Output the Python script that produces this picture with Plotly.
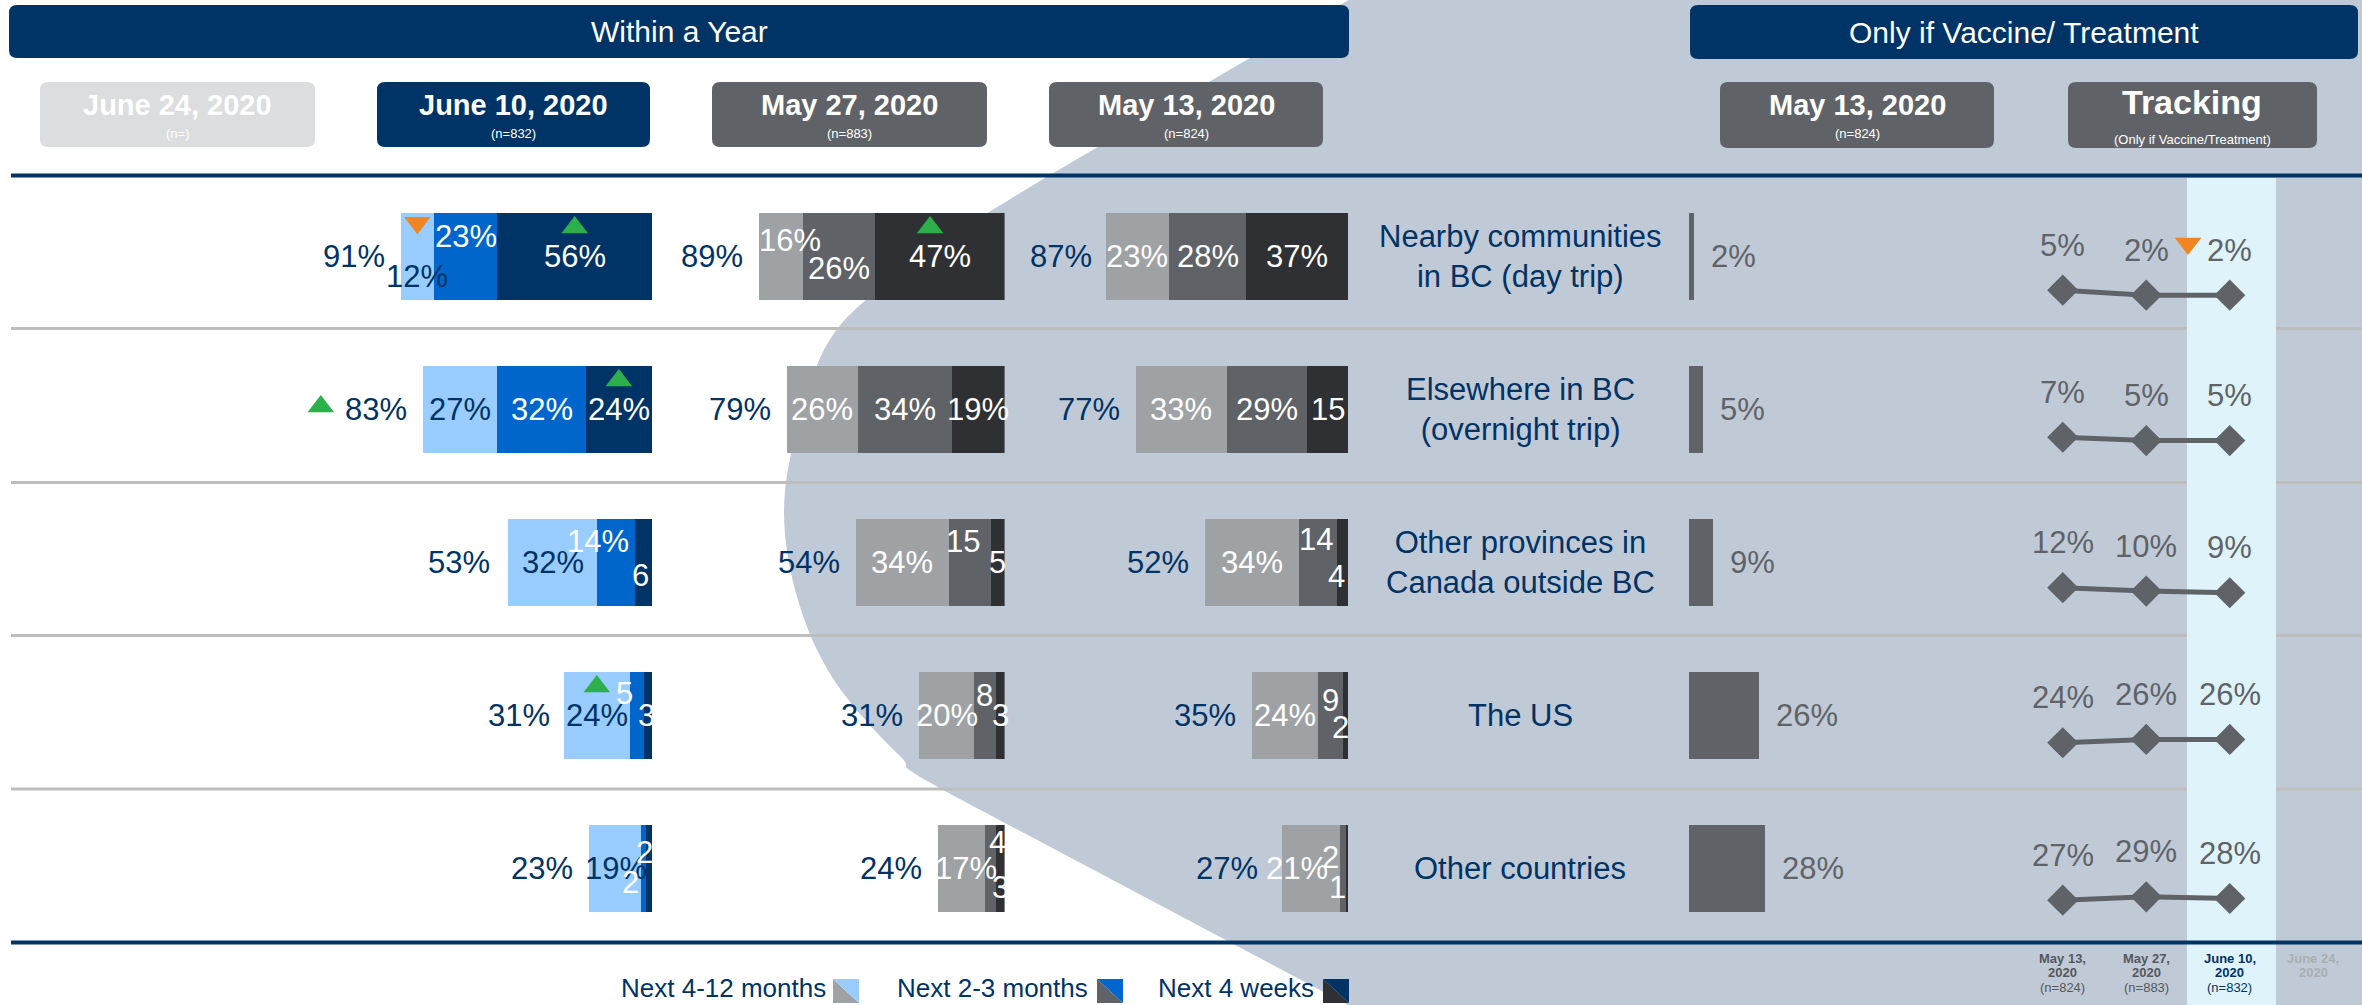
import plotly.graph_objects as go

# ---------------- data ----------------
row_labels = ["Nearby communities<br>in BC (day trip)", "Elsewhere in BC<br>(overnight trip)",
              "Other provinces in<br>Canada outside BC", "The US", "Other countries"]
segments = ["Next 4-12 months", "Next 2-3 months", "Next 4 weeks"]

wave_titles = ["June 24, 2020", "June 10, 2020", "May 27, 2020", "May 13, 2020"]
wave_n = ["(n=)", "(n=832)", "(n=883)", "(n=824)"]

# Within a Year - June 10, 2020
jun10_412 = [12, 27, 32, 24, 19]
jun10_23 = [23, 32, 14, 5, 2]
jun10_4w = [56, 24, 6, 3, 2]
jun10_total = [91, 83, 53, 31, 23]
# Within a Year - May 27, 2020
may27_412 = [16, 26, 34, 20, 17]
may27_23 = [26, 34, 15, 8, 4]
may27_4w = [47, 19, 5, 3, 3]
may27_total = [89, 79, 54, 31, 24]
# Within a Year - May 13, 2020
may13_412 = [23, 33, 34, 24, 21]
may13_23 = [28, 29, 14, 9, 2]
may13_4w = [37, 15, 4, 2, 1]
may13_total = [87, 77, 52, 35, 27]

# Only if Vaccine / Treatment
vaccine_may13 = [2, 5, 9, 26, 28]
track_dates = ["May 13,", "May 27,", "June 10,", "June 24,"]
track_n = ["(n=824)", "(n=883)", "(n=832)", ""]
track_vals = [[5, 2, 2], [7, 5, 5], [12, 10, 9], [24, 26, 26], [27, 29, 28]]

# ---------------- style ----------------
W, H = 2362, 1005
FONT = "Liberation Sans, Arial, sans-serif"
NAVY = "#003366"
GREY = "#5F6368"
BG = "#C0CAD7"
GREEN = "#2DB04B"
ORANGE = "#F28522"
BLUES = ["#99CCFF", "#0066CC", "#003366"]
GREYS = ["#9EA2A5", "#5F6368", "#2F3033"]

ROW_TOP, ROW_H = 180, 153
BAR_W = 0.57
PX_PCT = 2.76
X_MAX = 130


def fx(p):
    return p / W


def fy(p):
    return 1 - p / H


def rrect(x0, y0, x1, y1, r=8):
    return (f"M {fx(x0 + r)},{fy(y0)} L {fx(x1 - r)},{fy(y0)} Q {fx(x1)},{fy(y0)} {fx(x1)},{fy(y0 + r)} "
            f"L {fx(x1)},{fy(y1 - r)} Q {fx(x1)},{fy(y1)} {fx(x1 - r)},{fy(y1)} "
            f"L {fx(x0 + r)},{fy(y1)} Q {fx(x0)},{fy(y1)} {fx(x0)},{fy(y1 - r)} "
            f"L {fx(x0)},{fy(y0 + r)} Q {fx(x0)},{fy(y0)} {fx(x0 + r)},{fy(y0)} Z")


def smooth(pts, before, after):
    # catmull-rom through pts, as cubic beziers
    ext = [before] + pts + [after]
    d = ""
    for i in range(1, len(ext) - 2):
        p0, p1, p2, p3 = ext[i - 1], ext[i], ext[i + 1], ext[i + 2]
        c1 = (p1[0] + (p2[0] - p0[0]) / 6, p1[1] + (p2[1] - p0[1]) / 6)
        c2 = (p2[0] - (p3[0] - p1[0]) / 6, p2[1] - (p3[1] - p1[1]) / 6)
        d += f" C {fx(c1[0])},{fy(c1[1])} {fx(c2[0])},{fy(c2[1])} {fx(p2[0])},{fy(p2[1])}"
    return d


fig = go.Figure()
shapes = []
ann = []

# background swoosh
curve = [(1050, 175), (934, 250), (838, 328), (800, 420), (784, 510), (798, 600),
         (834, 680), (899, 755), (956, 797)]
bg_path = (f"M {fx(1352)},{fy(-2)} L {fx(1050)},{fy(175)}" + smooth(curve, (1352, 0), (1352, 1005)) +
           f" L {fx(1352)},{fy(1007)} L {fx(W + 2)},{fy(1007)} L {fx(W + 2)},{fy(-2)} Z")
shapes.append(dict(type="path", path=bg_path, xref="paper", yref="paper", fillcolor=BG,
                   line=dict(width=0), layer="below"))

# separators
for ys in [328.5, 482.5, 635.5, 789]:
    shapes.append(dict(type="line", xref="paper", yref="paper", x0=fx(11), x1=1, y0=fy(ys), y1=fy(ys),
                       line=dict(color="#BDBDBD", width=3), layer="below"))
# highlight column (June 10 tracking)
shapes.append(dict(type="rect", xref="paper", yref="paper", x0=fx(2187), x1=fx(2276), y0=0, y1=fy(178),
                   fillcolor="#DFF4FA", line=dict(width=0), layer="below"))
for ys in [175.5, 942.5]:
    shapes.append(dict(type="line", xref="paper", yref="paper", x0=fx(11), x1=1, y0=fy(ys), y1=fy(ys),
                       line=dict(color=NAVY, width=4), layer="below"))


# header boxes
def header(x0, y0, x1, y1, color):
    shapes.append(dict(type="path", path=rrect(x0, y0, x1, y1), xref="paper", yref="paper",
                       fillcolor=color, line=dict(width=0)))


def txt(x, y, text, size, color, bold=False, xanchor="center", yanchor="middle"):
    ann.append(dict(x=fx(x), y=fy(y), xref="paper", yref="paper", text=f"<b>{text}</b>" if bold else text,
                    showarrow=False, xanchor=xanchor, yanchor=yanchor,
                    font=dict(family=FONT, size=size, color=color)))


header(9, 5, 1349, 58, NAVY)
txt(679, 31.5, "Within a Year", 30, "white")
header(1690, 5, 2358, 59, NAVY)
txt(2024, 32, "Only if Vaccine/ Treatment", 30, "white")

box_x = [(40, 315), (377, 650), (712, 987), (1049, 1323)]
box_c = ["#DCDDDF", NAVY, GREY, GREY]
for (x0, x1), c, t, n in zip(box_x, box_c, wave_titles, wave_n):
    header(x0, 82, x1, 147, c)
    txt((x0 + x1) / 2, 105, t, 29, "white", bold=True)
    txt((x0 + x1) / 2, 134, n, 13, "white")
header(1720, 82, 1994, 148, GREY)
txt(1857, 105, wave_titles[3], 29, "white", bold=True)
txt(1857, 134, wave_n[3], 13, "white")
header(2068, 82, 2317, 148, GREY)
txt(2192, 102, "Tracking", 34, "white", bold=True)
txt(2192, 139, "(Only if Vaccine/Treatment)", 13, "white")

# ---------------- within a year bars ----------------
layout_axes = {}
layout_axes["yaxis"] = dict(domain=[fy(ROW_TOP + 5 * ROW_H), fy(ROW_TOP)], range=[4.5, -0.5],
                            visible=False, fixedrange=True, anchor="x")
groups = [
    ("x", "xaxis", 652, [jun10_412, jun10_23, jun10_4w], jun10_total, BLUES),
    ("x2", "xaxis2", 1004.6, [may27_412, may27_23, may27_4w], may27_total, GREYS),
    ("x3", "xaxis3", 1348.4, [may13_412, may13_23, may13_4w], may13_total, GREYS),
]
label_off = {
    (0, 0, 0): (0, 20), (0, 0, 1): (0, -20),
    (0, 2, 1): (-18, -21), (0, 2, 2): (-3, 13),
    (0, 3, 1): (-12, -22), (0, 3, 2): (-1, 0),
    (0, 4, 0): (1, 0), (0, 4, 1): (1, -16), (0, 4, 2): (-19, 14),
    (1, 0, 0): (9, -16), (1, 0, 1): (0, 12),
    (1, 2, 1): (-7, -21),
    (1, 3, 1): (-1, -20),
    (1, 4, 0): (4, 0), (1, 4, 1): (7, -26), (1, 4, 2): (0, 19),
    (2, 2, 1): (-2, -23), (2, 2, 2): (-6, 14),
    (2, 3, 1): (0, -15), (2, 3, 2): (-5, 12),
    (2, 4, 0): (-14, 0), (2, 4, 1): (-12, -11), (2, 4, 2): (-10, 19),
}
no_pct = {(0, 2, 2), (0, 3, 1), (0, 3, 2), (0, 4, 1), (0, 4, 2), (1, 2, 1), (1, 2, 2), (1, 3, 1),
          (1, 3, 2), (1, 4, 1), (1, 4, 2), (2, 1, 2), (2, 2, 1), (2, 2, 2), (2, 3, 1), (2, 3, 2),
          (2, 4, 1), (2, 4, 2)}
rows = list(range(5))


def center_of(segs, r, s):
    v412, v23, v4w = segs[0][r], segs[1][r], segs[2][r]
    return [v4w + v23 + v412 / 2, v4w + v23 / 2, v4w / 2][s]


for g, (xr, xname, right, segs, totals, colors) in enumerate(groups):
    layout_axes[xname] = dict(domain=[fx(right - X_MAX * PX_PCT), fx(right)], range=[X_MAX, 0],
                              visible=False, fixedrange=True, anchor="y")
    # stack from the right: next 4 weeks first
    for s in [2, 1, 0]:
        fig.add_trace(go.Bar(x=segs[s], y=rows, orientation="h", xaxis=xr, yaxis="y", width=BAR_W,
                             marker=dict(color=colors[s], line=dict(width=0)), name=segments[s],
                             showlegend=False, hoverinfo="skip"))
    for r in rows:
        for s in range(3):
            val = segs[s][r]
            dx, dy = label_off.get((g, r, s), (0, 0))
            col = NAVY if (g == 0 and s == 0) else "white"
            ann.append(dict(x=center_of(segs, r, s), y=r, xref=xr, yref="y",
                            text=f"{val}" if (g, r, s) in no_pct else f"{val}%",
                            showarrow=False, xanchor="center", yanchor="middle", xshift=dx, yshift=-dy,
                            font=dict(family=FONT, size=31, color=col)))
        ann.append(dict(x=totals[r], y=r, xref=xr, yref="y", text=f"{totals[r]}%", showarrow=False,
                        xanchor="right", yanchor="middle", xshift=-14,
                        font=dict(family=FONT, size=31, color=NAVY)))

# significance markers (axis, segments, row, segment, direction, nudge in %-units)
sig = [("x", groups[0][3], 0, 0, "down", 0), ("x", groups[0][3], 0, 2, "up", 0),
       ("x", groups[0][3], 1, 2, "up", 0), ("x", groups[0][3], 3, 0, "up", 0),
       ("x2", groups[1][3], 0, 2, "up", 3.5)]
for xr, segs, r, s, d, nudge in sig:
    fig.add_trace(go.Scatter(x=[center_of(segs, r, s) + nudge], y=[r - (0.19 if d == "up" else 0.22)],
                             xaxis=xr, yaxis="y", mode="markers", hoverinfo="skip", showlegend=False,
                             marker=dict(symbol=f"triangle-{d}", size=23, color=GREEN if d == "up" else ORANGE)))
# significance marker beside the June 10 "Elsewhere in BC" total
fig.add_trace(go.Scatter(x=[jun10_total[1] + 37], y=[1 - 0.02], xaxis="x", yaxis="y", mode="markers",
                         hoverinfo="skip", showlegend=False,
                         marker=dict(symbol="triangle-up", size=23, color=GREEN)))

# category labels
for r, lab in enumerate(row_labels):
    ann.append(dict(x=fx(1520), y=r, xref="paper", yref="y", text=lab, showarrow=False,
                    xanchor="center", yanchor="middle", align="center",
                    font=dict(family=FONT, size=31, color=NAVY)))

# ---------------- only if vaccine ----------------
layout_axes["xaxis4"] = dict(domain=[fx(1689), fx(1689 + 40 * 2.7)], range=[0, 40], visible=False,
                             fixedrange=True, anchor="y")
fig.add_trace(go.Bar(x=vaccine_may13, y=rows, orientation="h", xaxis="x4", yaxis="y", width=BAR_W,
                     marker=dict(color=GREY, line=dict(width=0)), showlegend=False, hoverinfo="skip"))
for r, v in enumerate(vaccine_may13):
    ann.append(dict(x=v, y=r, xref="x4", yref="y", text=f"{v}%", showarrow=False, xanchor="left",
                    yanchor="middle", xshift=15, font=dict(family=FONT, size=31, color=GREY)))

# tracking
layout_axes["xaxis5"] = dict(domain=[fx(2021), fx(2355)], range=[-0.5, 3.5], visible=False,
                             fixedrange=True, anchor="y2")
PX_TRK = 1.67
trk_drop = [37, 30, 28, 25, 30]  # px the row mean sits below the row centre
for k, vals in enumerate(track_vals):
    m = sum(vals) / len(vals)
    half = ROW_H / 2 / PX_TRK
    mid = m + trk_drop[k] / PX_TRK
    layout_axes[f"yaxis{k + 2}"] = dict(domain=[fy(ROW_TOP + (k + 1) * ROW_H), fy(ROW_TOP + k * ROW_H)],
                                        range=[mid - half, mid + half], visible=False, fixedrange=True,
                                        anchor="x5")
    fig.add_trace(go.Scatter(x=[0, 1, 2], y=vals, xaxis="x5", yaxis=f"y{k + 2}", mode="lines+markers",
                             line=dict(color=GREY, width=5), showlegend=False, hoverinfo="skip",
                             marker=dict(symbol="diamond", size=24, color=GREY), cliponaxis=False))
    for i, v in enumerate(vals):
        ann.append(dict(x=i, y=v, xref="x5", yref=f"y{k + 2}", text=f"{v}%", showarrow=False,
                        xanchor="center", yanchor="middle", yshift=45,
                        font=dict(family=FONT, size=31, color=GREY)))
fig.add_trace(go.Scatter(x=[1.5], y=[-0.085], xaxis="x5", yaxis="y", mode="markers", hoverinfo="skip",
                         showlegend=False, marker=dict(symbol="triangle-down", size=23, color=ORANGE)))

# tracking date labels
date_cols = ["#54585D", "#54585D", NAVY, "#A9ADB2"]
for i, (dt, n) in enumerate(zip(track_dates, track_n)):
    lines = [(958, f"<b>{dt}</b>"), (972, "<b>2020</b>")]
    if n:
        lines.append((987, n))
    for yy, t in lines:
        ann.append(dict(x=i, y=fy(yy), xref="x5", yref="paper", text=t, showarrow=False,
                        xanchor="center", yanchor="middle",
                        font=dict(family=FONT, size=13, color=date_cols[i])))

# ---------------- legend ----------------
leg = [(828, (833, 859), 0), (1090, (1097, 1123), 1), (1316, (1323, 1349), 2)]
for tx, (i0, i1), s in leg:
    txt(tx, 1005, segments[s], 26, NAVY, xanchor="right", yanchor="bottom")
    shapes.append(dict(type="path", xref="paper", yref="paper", line=dict(width=0), fillcolor=GREYS[s],
                       path=f"M {fx(i0)},{fy(979)} L {fx(i1)},{fy(1003)} L {fx(i0)},{fy(1003)} Z"))
    shapes.append(dict(type="path", xref="paper", yref="paper", line=dict(width=0), fillcolor=BLUES[s],
                       path=f"M {fx(i0)},{fy(979)} L {fx(i1)},{fy(979)} L {fx(i1)},{fy(1003)} Z"))

fig.update_layout(width=W, height=H, margin=dict(l=0, r=0, t=0, b=0), barmode="stack",
                  paper_bgcolor="white", plot_bgcolor="rgba(0,0,0,0)", showlegend=False,
                  shapes=shapes, annotations=ann, font=dict(family=FONT), **layout_axes)

fig.write_html("out.html", config={"displayModeBar": False},
               post_script="document.body.style.margin='0';document.body.style.overflow='hidden';")
